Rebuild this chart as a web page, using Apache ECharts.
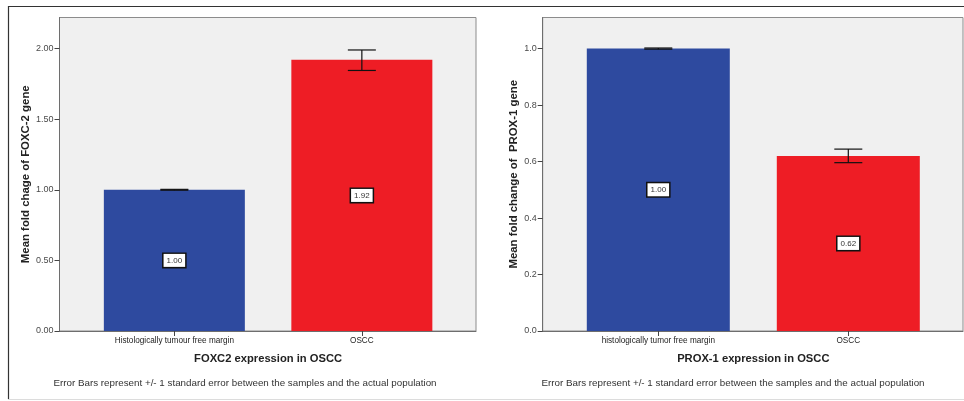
<!DOCTYPE html>
<html>
<head>
<meta charset="utf-8">
<script src="https://cdn.jsdelivr.net/npm/echarts@6/dist/echarts.min.js"></script>
<style>
html,body{margin:0;padding:0;background:#fff;}
#c{width:964px;height:401px;}
</style>
</head>
<body>
<div id="c"></div>
<script>
// ---- data ----
const categoriesA = ['Histologically tumour free margin', 'OSCC'];
const valuesA = [1.00, 1.92];
const errLowA = [0.997, 1.845];
const errHighA = [1.003, 1.99];
const yMaxA = 2.22;
const yTicksA = [0, 0.5, 1.0, 1.5, 2.0];

const categoriesB = ['histologically tumor free margin', 'OSCC'];
const valuesB = [1.00, 0.62];
const errLowB = [0.998, 0.596];
const errHighB = [1.002, 0.644];
const yMaxB = 1.11;
const yTicksB = [0, 0.2, 0.4, 0.6, 0.8, 1.0];

const barColors = ['#2E4A9F', '#EE1D25'];
const yNameA = 'Mean fold chage of FOXC-2 gene';
const yNameB = 'Mean fold change of  PROX-1 gene';
const xNameA = 'FOXC2 expression in OSCC';
const xNameB = 'PROX-1 expression in OSCC';
const footnote = 'Error Bars represent +/- 1 standard error between the samples and the actual population';

const FONT = '"Liberation Sans", Arial, sans-serif';

function frameY(gridIndex, max, ticks, digits, name, gap) {
  return {
    type: 'value', gridIndex: gridIndex, min: 0, max: max,
    splitLine: {show: false},
    axisLine: {show: true, lineStyle: {color: '#6e6e6e', width: 1}},
    axisTick: {show: true, length: 5, customValues: ticks, lineStyle: {color: '#444'}},
    axisLabel: {
      fontSize: 9, color: '#4a4a4a', fontFamily: FONT, margin: 6,
      customValues: ticks,
      formatter: function (v) { return Number(v).toFixed(digits); }
    },
    name: name, nameLocation: 'middle', nameGap: gap,
    nameTextStyle: {fontSize: 11.4, fontWeight: 'bold', color: '#222', fontFamily: FONT}
  };
}
function frameX(gridIndex, cats) {
  return {
    type: 'category', gridIndex: gridIndex, data: cats,
    axisLine: {show: true, lineStyle: {color: '#6e6e6e', width: 1}},
    axisTick: {show: false}, axisLabel: {show: false}, splitLine: {show: false}
  };
}
function barX(gridIndex, cats, name) {
  return {
    type: 'category', gridIndex: gridIndex, data: cats,
    axisLine: {show: false},
    axisTick: {show: true, alignWithLabel: true, length: 5, lineStyle: {color: '#444'}},
    axisLabel: {fontSize: 8.2, color: '#222', fontFamily: FONT, margin: 6},
    name: name, nameLocation: 'middle', nameGap: 22,
    nameTextStyle: {fontSize: 11.2, fontWeight: 'bold', color: '#222', fontFamily: FONT}
  };
}
function barY(gridIndex, max) {
  return {type: 'value', gridIndex: gridIndex, min: 0, max: max, show: false, splitLine: {show: false}};
}
function barSeries(axisIndex, vals, width) {
  return {
    type: 'bar', xAxisIndex: axisIndex, yAxisIndex: axisIndex,
    data: vals.map(function (v, i) { return {value: v, itemStyle: {color: barColors[i]}}; }),
    barWidth: width,
    label: {
      show: true, position: 'inside', formatter: function (p) { return p.value.toFixed(2); },
      fontSize: 8, color: '#333', fontFamily: FONT,
      backgroundColor: '#fff', borderColor: '#111', borderWidth: 1.5, padding: [3, 3, 2, 3]
    },
    z: 2
  };
}
function errSeries(axisIndex, lows, highs) {
  return {
    type: 'custom', xAxisIndex: axisIndex, yAxisIndex: axisIndex,
    data: lows.map(function (l, i) { return [i, l, highs[i]]; }),
    renderItem: function (params, api) {
      const x = api.value(0);
      const lo = api.coord([x, api.value(1)]);
      const hi = api.coord([x, api.value(2)]);
      const hw = 14;
      const st = {stroke: '#111', lineWidth: 1.2};
      return {type: 'group', children: [
        {type: 'line', shape: {x1: lo[0], y1: lo[1], x2: hi[0], y2: hi[1]}, style: st},
        {type: 'line', shape: {x1: lo[0] - hw, y1: lo[1], x2: lo[0] + hw, y2: lo[1]}, style: st},
        {type: 'line', shape: {x1: hi[0] - hw, y1: hi[1], x2: hi[0] + hw, y2: hi[1]}, style: st}
      ]};
    },
    z: 5
  };
}

const chart = echarts.init(document.getElementById('c'));
chart.setOption({
  animation: false,
  backgroundColor: '#fff',
  grid: [
    {left: 59.5, top: 17.5, width: 416.5, height: 313.5, show: true, backgroundColor: '#f0f0f0', borderColor: '#8c8c8c', borderWidth: 1},
    {left: 80.6, top: 17.5, width: 375, height: 313.5},
    {left: 542.7, top: 17.5, width: 420.3, height: 313.5, show: true, backgroundColor: '#f0f0f0', borderColor: '#8c8c8c', borderWidth: 1},
    {left: 563.3, top: 17.5, width: 380, height: 313.5}
  ],
  xAxis: [
    frameX(0, categoriesA),
    barX(1, categoriesA, xNameA),
    frameX(2, categoriesB),
    barX(3, categoriesB, xNameB)
  ],
  yAxis: [
    frameY(0, yMaxA, yTicksA, 2, yNameA, 28),
    barY(1, yMaxA),
    frameY(2, yMaxB, yTicksB, 1, yNameB, 23),
    barY(3, yMaxB)
  ],
  series: [
    barSeries(1, valuesA, 141),
    errSeries(1, errLowA, errHighA),
    barSeries(3, valuesB, 143),
    errSeries(3, errLowB, errHighB)
  ],
  graphic: [
    {type: 'line', shape: {x1: 8, y1: 6.5, x2: 964, y2: 6.5}, style: {stroke: '#333', lineWidth: 1.2}},
    {type: 'line', shape: {x1: 8.5, y1: 6, x2: 8.5, y2: 399}, style: {stroke: '#333', lineWidth: 1.2}},
    {type: 'line', shape: {x1: 8, y1: 399.5, x2: 964, y2: 399.5}, style: {stroke: '#dcdcdc', lineWidth: 1}},
    {type: 'text', x: 245, y: 383, style: {text: footnote, fontSize: 9.8, fill: '#333', fontFamily: FONT, textAlign: 'center', textVerticalAlign: 'middle'}},
    {type: 'text', x: 733, y: 383, style: {text: footnote, fontSize: 9.8, fill: '#333', fontFamily: FONT, textAlign: 'center', textVerticalAlign: 'middle'}}
  ]
});
</script>
</body>
</html>
